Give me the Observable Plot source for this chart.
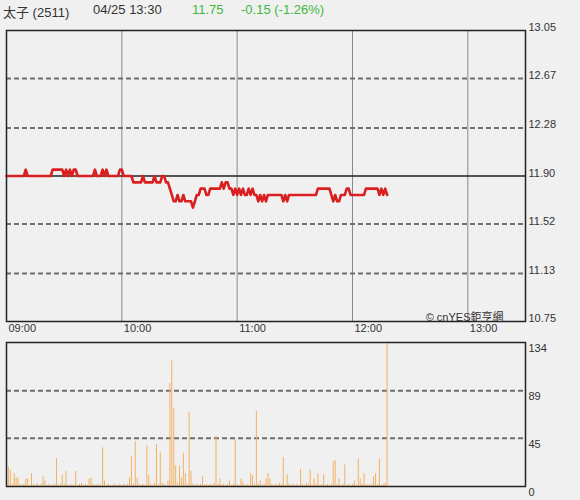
<!DOCTYPE html>
<html><head><meta charset="utf-8">
<script src="https://cdn.jsdelivr.net/npm/d3@7"></script>
<script src="https://cdn.jsdelivr.net/npm/@observablehq/plot@0.6"></script>
<style>
body{margin:0;background:#f0f0f0;font-family:"Liberation Sans",Arial,"Noto Sans CJK TC",sans-serif;}
#wrap{position:relative;width:580px;height:500px;background:#f0f0f0;}
#price{position:absolute;top:0;left:0;}
#vol{position:absolute;top:340px;left:0;}
#hdr{position:absolute;top:0;left:0;width:580px;height:22px;font-size:13px;color:#333;}
#hdr span{position:absolute;top:2px;white-space:nowrap;}
#hdr .g{color:#3cb93c;}
</style></head>
<body>
<div id="wrap">
  <div id="price"></div>
  <div id="vol"></div>
  <div id="hdr"></div>
</div>
<script>
// ---- header texts ----
const stockName = "太子 (2511)";
const stamp = "04/25 13:30";
const lastPrice = "11.75";
const change = "-0.15 (-1.26%)";

// ---- axes ----
const sessionStart = [9, 0];
const sessionEnd = [13, 30];
const hourLabels = ["09:00", "10:00", "11:00", "12:00", "13:00"];
const prevClose = 11.90;
const priceTicks = [13.05, 12.67, 12.28, 11.90, 11.52, 11.13, 10.75];
const priceGrid = [12.67, 12.28, 11.52, 11.13];
const volTicks = [134, 89, 45, 0];
const volGrid = [89, 45];
const copyright = "© cnYES鉅亨網";

// ---- per-minute data from 09:00 ----
const prices = [
  11.90,11.90,11.90,11.90,11.90,11.90,11.90,11.90,11.90,11.90,
  11.95,11.90,11.90,11.90,11.90,11.90,11.90,11.90,11.90,11.90,
  11.90,11.90,11.90,11.90,11.95,11.95,11.95,11.95,11.95,11.95,
  11.90,11.95,11.90,11.95,11.90,11.95,11.95,11.90,11.90,11.90,
  11.90,11.90,11.90,11.90,11.90,11.90,11.95,11.90,11.90,11.90,
  11.95,11.90,11.95,11.90,11.90,11.90,11.90,11.90,11.90,11.95,
  11.95,11.90,11.90,11.90,11.90,11.90,11.85,11.85,11.85,11.85,
  11.85,11.90,11.85,11.85,11.85,11.85,11.85,11.90,11.85,11.85,
  11.85,11.90,11.90,11.85,11.85,11.80,11.75,11.70,11.70,11.75,
  11.70,11.70,11.75,11.70,11.70,11.70,11.70,11.65,11.70,11.75,
  11.75,11.80,11.80,11.80,11.75,11.75,11.80,11.80,11.80,11.80,
  11.80,11.80,11.85,11.80,11.85,11.85,11.80,11.80,11.75,11.80,
  11.75,11.80,11.75,11.80,11.75,11.75,11.80,11.75,11.80,11.75,
  11.75,11.70,11.75,11.70,11.75,11.70,11.75,11.75,11.75,11.75,
  11.75,11.75,11.75,11.75,11.70,11.75,11.70,11.75,11.75,11.75,
  11.75,11.75,11.75,11.75,11.75,11.75,11.75,11.75,11.75,11.75,
  11.75,11.75,11.80,11.80,11.80,11.80,11.80,11.80,11.80,11.75,
  11.70,11.75,11.70,11.70,11.75,11.75,11.75,11.80,11.80,11.75,
  11.75,11.75,11.75,11.75,11.75,11.75,11.75,11.80,11.80,11.80,
  11.80,11.80,11.80,11.80,11.75,11.80,11.75,11.80,11.75
];
const volumes = [
  3,18,15,2,12,8,8,2,1,2,
  7,7,1,12,2,1,3,1,2,9,
  5,1,2,1,1,2,26,1,2,11,
  2,14,1,1,2,1,14,1,2,3,
  1,2,1,7,8,2,1,1,2,1,
  36,5,1,2,1,1,2,1,1,2,
  1,2,1,2,8,28,2,42,8,2,
  1,2,1,38,10,2,1,3,39,2,
  32,3,2,1,5,96,117,73,19,3,
  19,8,31,12,2,69,14,2,1,2,
  1,2,9,1,2,1,2,1,3,47,
  2,7,1,2,1,2,5,1,2,44,
  2,1,7,4,1,2,1,12,10,2,
  70,2,5,1,2,7,12,7,2,1,
  2,1,3,2,27,1,11,2,1,2,
  1,2,1,16,2,1,3,2,15,1,
  7,2,12,1,2,11,1,2,1,2,
  23,24,2,7,1,2,20,1,2,1,
  2,5,1,26,7,2,12,1,2,1,
  2,9,12,2,26,1,2,3,134
];

// ---- build tables ----
const t0 = new Date(2024, 3, 25, sessionStart[0], sessionStart[1]);
const tEnd = new Date(2024, 3, 25, sessionEnd[0], sessionEnd[1]);
const atMinute = i => new Date(t0.getTime() + i * 60000);
const priceData = prices.map((p, i) => ({t: atMinute(i), p}));
const volData = volumes.map((v, i) => ({t: atMinute(i), v}));
const hourTimes = hourLabels.map(s => { const [h, m] = s.split(":").map(Number); return new Date(2024, 3, 25, h, m); });

const font = '"Liberation Sans", Arial, "Noto Sans CJK TC", sans-serif';
const fmtHM = d3.timeFormat("%H:%M");
const dashStyle = {stroke: "#6e6e6e", strokeWidth: 2, strokeDasharray: "5,3"};

// header
const hdr = document.getElementById("hdr");
[[stockName, 3, ""], [stamp, 93, ""], [lastPrice, 192, "g"], [change, 241, "g"]].forEach(([txt, x, cls]) => {
  const s = document.createElement("span");
  s.textContent = txt; s.style.left = x + "px"; if (cls) s.className = cls;
  hdr.appendChild(s);
});

const pricePlot = Plot.plot({
  width: 580, height: 340,
  marginTop: 30, marginBottom: 19, marginLeft: 6, marginRight: 55,
  style: {background: "transparent", fontSize: "11px", fontFamily: font, color: "#333"},
  x: {type: "time", domain: [t0, tEnd]},
  y: {domain: [10.75, 13.05]},
  marks: [
    Plot.ruleX(hourTimes.slice(1), {stroke: "#8a8a8a", strokeWidth: 1}),
    Plot.ruleY(priceGrid, dashStyle),
    Plot.ruleY([prevClose], {stroke: "#222", strokeWidth: 1.5}),
    Plot.line(priceData, {x: "t", y: "p", stroke: "#d91f1f", strokeWidth: 2.6}),
    Plot.frame({stroke: "#222", strokeWidth: 1.5}),
    Plot.axisY({anchor: "right", label: null, ticks: priceTicks, tickSize: 0, tickPadding: 3, tickFormat: d => d.toFixed(2), dy: -3, fill: "#333"}),
    Plot.axisX({label: null, ticks: hourTimes, tickSize: 0, tickPadding: 3, tickFormat: fmtHM, textAnchor: "start", dx: 2, fill: "#333"}),
    Plot.text([copyright], {frameAnchor: "bottom-right", dx: -22, dy: -1, fontSize: 11, fill: "#333", fontFamily: font})
  ]
});
document.getElementById("price").appendChild(pricePlot);

const volPlot = Plot.plot({
  width: 580, height: 160,
  marginTop: 2, marginBottom: 14, marginLeft: 6, marginRight: 55,
  style: {background: "transparent", fontSize: "11px", fontFamily: font, color: "#333"},
  x: {type: "time", domain: [t0, tEnd], axis: null},
  y: {domain: [0, 134]},
  marks: [
    Plot.ruleY(volGrid, dashStyle),
    Plot.ruleX(volData, {x: "t", y1: 0, y2: "v", stroke: "#f5b060", strokeWidth: 1}),
    Plot.frame({stroke: "#222", strokeWidth: 1.5}),
    Plot.axisY({anchor: "right", label: null, ticks: volTicks, tickSize: 0, tickPadding: 3, dy: 6, fill: "#333"})
  ]
});
document.getElementById("vol").appendChild(volPlot);
</script>
</body></html>
